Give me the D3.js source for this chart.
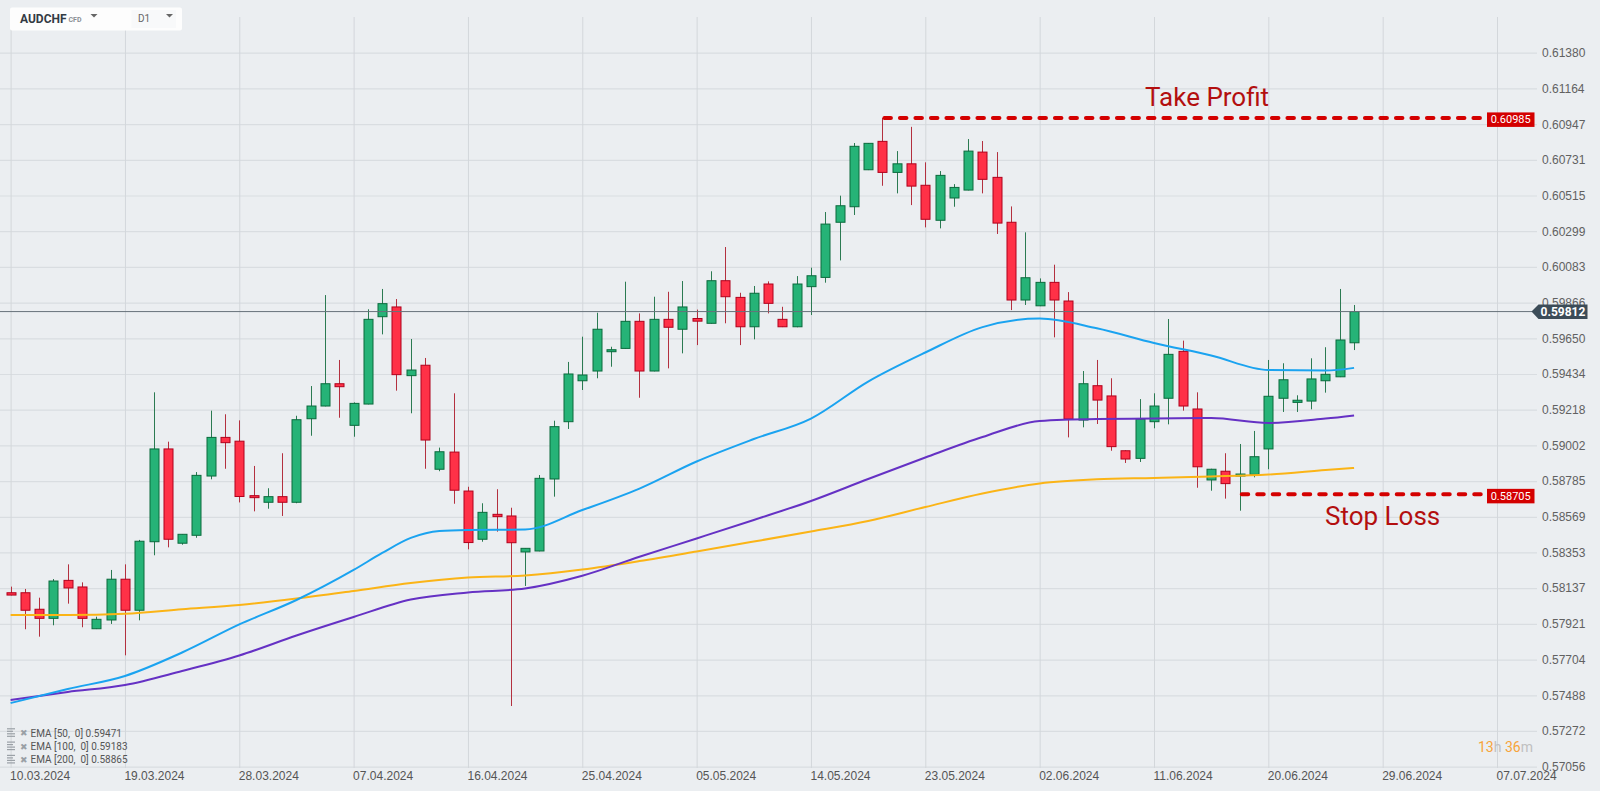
<!DOCTYPE html>
<html><head><meta charset="utf-8">
<script src="https://cdn.jsdelivr.net/npm/d3@7"></script>
<style>
html,body{margin:0;padding:0;background:#ebeef1;overflow:hidden;}
svg{display:block;font-family:Roboto,"Noto Sans",sans-serif;}
</style></head><body>
<svg id="chart" width="1600" height="791"></svg>
<script>
// ---------- DATA ----------
const symbol = "AUDCHF";
const symbolType = "CFD";
const timeframe = "D1";
const xLabels = ["10.03.2024","19.03.2024","28.03.2024","07.04.2024","16.04.2024","25.04.2024","05.05.2024","14.05.2024","23.05.2024","02.06.2024","11.06.2024","20.06.2024","29.06.2024","07.07.2024"];
const yTickLabels = ["0.57056","0.57272","0.57488","0.57704","0.57921","0.58137","0.58353","0.58569","0.58785","0.59002","0.59218","0.59434","0.59650","0.59866","0.60083","0.60299","0.60515","0.60731","0.60947","0.61164","0.61380"];

const opens = [0.58109,0.58109,0.58009,0.57954,0.58184,0.58144,0.57891,0.57944,0.58191,0.58003,
0.58418,0.58980,0.58409,0.58457,0.58816,0.59050,0.59027,0.58697,0.58657,0.58691,
0.58657,0.59163,0.59240,0.59375,0.59123,0.59252,0.59781,0.59840,0.59424,0.59487,
0.58857,0.58961,0.58725,0.58433,0.58584,0.58574,0.58356,0.58362,0.58798,0.59145,
0.59393,0.59452,0.59571,0.59589,0.59753,0.59452,0.59765,0.59705,0.59770,0.59741,
0.59999,0.59898,0.59720,0.59979,0.59765,0.59720,0.59963,0.60019,0.60353,0.60447,
0.60671,0.60843,0.60655,0.60707,0.60577,0.60365,0.60500,0.60548,0.60778,0.60625,
0.60353,0.59882,0.59847,0.59989,0.59876,0.59155,0.59363,0.59301,0.58969,0.58923,
0.59145,0.59287,0.59571,0.59222,0.58792,0.58845,0.58824,0.58826,0.58980,0.59287,
0.59262,0.59270,0.59393,0.59417,0.59623];
const highs = [0.58146,0.58132,0.58079,0.58192,0.58281,0.58172,0.57964,0.58247,0.58281,0.58429,
0.59323,0.59024,0.58463,0.58840,0.59212,0.59190,0.59153,0.58877,0.58742,0.58954,
0.59181,0.59361,0.59912,0.59519,0.59262,0.59826,0.59949,0.59888,0.59646,0.59531,
0.58988,0.59317,0.58751,0.58651,0.58736,0.58624,0.58378,0.58822,0.59151,0.59507,
0.59660,0.59805,0.59599,0.59993,0.59801,0.59902,0.59932,0.59997,0.59824,0.60056,
0.60203,0.59926,0.59967,0.59995,0.59841,0.60027,0.60078,0.60415,0.60514,0.60833,
0.60833,0.60985,0.60784,0.60931,0.60716,0.60663,0.60584,0.60857,0.60845,0.60778,
0.60449,0.60292,0.60013,0.60096,0.59930,0.59452,0.59519,0.59408,0.58972,0.59282,
0.59317,0.59767,0.59636,0.59323,0.58860,0.58954,0.59010,0.59089,0.59519,0.59499,
0.59305,0.59529,0.59596,0.59949,0.59852];
const lows = [0.58093,0.57888,0.57843,0.57912,0.58043,0.57900,0.57889,0.57920,0.57730,0.57942,
0.58336,0.58384,0.58400,0.58442,0.58796,0.58860,0.58656,0.58602,0.58618,0.58574,
0.58651,0.59060,0.59238,0.59169,0.59054,0.59250,0.59674,0.59333,0.59196,0.58860,
0.58845,0.58648,0.58372,0.58418,0.58479,0.57423,0.58150,0.58360,0.58691,0.59101,
0.59337,0.59408,0.59478,0.59587,0.59290,0.59450,0.59468,0.59559,0.59609,0.59739,
0.59741,0.59609,0.59644,0.59801,0.59718,0.59717,0.59791,0.59987,0.60122,0.60397,
0.60669,0.60574,0.60528,0.60457,0.60322,0.60316,0.60447,0.60546,0.60528,0.60282,
0.59821,0.59852,0.59845,0.59656,0.59050,0.59111,0.59131,0.58969,0.58895,0.58901,
0.59105,0.59129,0.59212,0.58745,0.58727,0.58679,0.58606,0.58808,0.58857,0.59204,
0.59204,0.59220,0.59321,0.59415,0.59579];
const closes = [0.58095,0.58003,0.57954,0.58180,0.58138,0.57954,0.57948,0.58191,0.58003,0.58421,
0.58980,0.58433,0.58463,0.58820,0.59050,0.59018,0.58692,0.58685,0.58691,0.58657,
0.59157,0.59240,0.59375,0.59357,0.59256,0.59765,0.59860,0.59430,0.59458,0.59034,
0.58963,0.58730,0.58413,0.58596,0.58570,0.58412,0.58378,0.58802,0.59115,0.59434,
0.59428,0.59705,0.59581,0.59753,0.59452,0.59765,0.59717,0.59840,0.59754,0.59999,
0.59902,0.59720,0.59923,0.59862,0.59720,0.59979,0.60029,0.60342,0.60453,0.60813,
0.60831,0.60655,0.60707,0.60572,0.60371,0.60637,0.60564,0.60784,0.60613,0.60348,
0.59882,0.60017,0.59989,0.59882,0.59161,0.59375,0.59276,0.58994,0.58919,0.59160,
0.59240,0.59553,0.59240,0.58872,0.58857,0.58770,0.58828,0.58933,0.59299,0.59399,
0.59275,0.59404,0.59432,0.59640,0.59812];

// EMA lines, read at selected bars
const ema50Bars  = [0,4,8,12,16,20,24,26,28,30,32,36,40,44,48,52,56,60,64,68,72,76,80,84,88,92,94];
const ema50Vals  = [0.57441,0.57526,0.57605,0.57747,0.57917,0.58065,0.58247,0.58350,0.58441,0.58483,0.58489,0.58492,0.58610,0.58740,0.58904,0.59040,0.59164,0.59388,0.59564,0.59718,0.59770,0.59711,0.59622,0.59546,0.59458,0.59455,0.59471];
const ema100Bars = [0,4,8,12,16,20,24,28,32,36,40,44,48,52,56,60,64,68,72,76,80,84,88,92,94];
const ema100Vals = [0.57460,0.57508,0.57550,0.57635,0.57729,0.57850,0.57962,0.58068,0.58111,0.58135,0.58212,0.58327,0.58438,0.58550,0.58665,0.58798,0.58928,0.59052,0.59149,0.59161,0.59164,0.59167,0.59137,0.59164,0.59183];
const ema200Bars = [0,4,8,12,16,20,24,28,32,36,40,44,48,52,56,60,64,68,72,76,80,84,88,92,94];
const ema200Vals = [0.57974,0.57974,0.57982,0.58009,0.58035,0.58074,0.58120,0.58168,0.58201,0.58214,0.58250,0.58301,0.58359,0.58419,0.58480,0.58544,0.58628,0.58710,0.58771,0.58796,0.58804,0.58813,0.58825,0.58852,0.58865];
const emaLegend = ["EMA [50,  0] 0.59471","EMA [100,  0] 0.59183","EMA [200,  0] 0.58865"];

const takeProfit = 0.60985, takeProfitStart = 61, takeProfitLabel = "Take Profit";
const stopLoss = 0.58705, stopLossStart = 86, stopLossLabel = "Stop Loss";
const lastPrice = 0.59812;
const timerParts = [["13","o"],["h","g"],[" 36","o"],["m","g"]];

// ---------- DRAW ----------
const svg = d3.select("#chart");
const W = 1600, H = 791;
const plotRight = 1537, plotTop = 17, plotBottom = 768;
const nSlots = 104;
const x = d3.scaleLinear().domain([0, nSlots]).range([10.6, 1497]);
const yVals = yTickLabels.map(Number);
const y = d3.scaleLinear().domain([yVals[0], yVals[yVals.length-1]]).range([766.6, 52.7]);

svg.append("rect").attr("width", W).attr("height", H).attr("fill", "#ebeef1");

// horizontal grid + right axis
const yAxis = d3.axisRight(y).tickValues(yVals).tickFormat((d,i)=>yTickLabels[i])
  .tickSize(-plotRight).tickPadding(5);
const gy = svg.append("g").attr("transform", `translate(${plotRight},0)`).call(yAxis);
gy.select(".domain").remove();
gy.selectAll("line").attr("stroke", "#d9dde1").attr("stroke-width", 1.2);
gy.selectAll("text").attr("fill", "#616161").style("font-size", "12px");

// vertical grid + bottom axis
const xTicks = d3.range(0, nSlots + 1, 8);
const xAxis = d3.axisBottom(x).tickValues(xTicks).tickFormat((d,i)=>xLabels[i])
  .tickSize(-(plotBottom - plotTop)).tickPadding(3);
const gx = svg.append("g").attr("transform", `translate(0,${plotBottom})`).call(xAxis);
gx.select(".domain").remove();
gx.selectAll("line").attr("stroke", "#d3d7db").attr("stroke-width", 1);
gx.selectAll("text").attr("fill", "#555").style("font-size", "12px").attr("text-anchor", "start").attr("x", -1);

// candles
const candles = opens.map((o,i)=>({i, o, h: highs[i], l: lows[i], c: closes[i]}));
const cg = svg.append("g");
const upFill = "#26b377", upStroke = "#0a6a3c", dnFill = "#ff3147", dnStroke = "#b0001c";
candles.forEach(d => {
  const cx = Math.round(x(d.i));
  const up = d.c >= d.o;
  cg.append("line").attr("x1", cx + 0.5).attr("x2", cx + 0.5)
    .attr("y1", y(d.h)).attr("y2", y(d.l))
    .attr("stroke", up ? "#2b7a52" : "#b3303f").attr("stroke-width", 1);
  const top = y(Math.max(d.o, d.c)), bot = y(Math.min(d.o, d.c));
  const hgt = Math.max(2, bot - top);
  cg.append("rect").attr("x", cx - 4).attr("y", top).attr("width", 9).attr("height", hgt)
    .attr("fill", up ? upFill : dnFill).attr("stroke", up ? upStroke : dnStroke).attr("stroke-width", 1);
});

// EMA lines
const line = d3.line().x(d=>x(d[0])).y(d=>y(d[1])).curve(d3.curveMonotoneX);
const emaSeries = [
  {bars: ema200Bars, vals: ema200Vals, color: "#fbb416"},
  {bars: ema100Bars, vals: ema100Vals, color: "#6531c4"},
  {bars: ema50Bars,  vals: ema50Vals,  color: "#1aa3f0"}
];
emaSeries.forEach(s => {
  svg.append("path").datum(s.bars.map((b,k)=>[b, s.vals[k]]))
    .attr("d", line).attr("fill", "none").attr("stroke", s.color).attr("stroke-width", 2);
});

// current price line
const yp = y(lastPrice);
svg.append("line").attr("x1", 0).attr("x2", 1532).attr("y1", yp).attr("y2", yp)
  .attr("stroke", "#66717a").attr("stroke-width", 1);

// TP / SL lines
function level(val, startBar, label, textX, textY) {
  const yy = y(val);
  svg.append("line").attr("x1", x(startBar) + 2).attr("x2", 1483).attr("y1", yy).attr("y2", yy)
    .attr("stroke", "#d40000").attr("stroke-width", 4).attr("stroke-linecap", "round")
    .attr("stroke-dasharray", "6.5,9");
  svg.append("rect").attr("x", 1487).attr("y", yy - 5.5).attr("width", 47.5).attr("height", 14.5)
    .attr("fill", "#d40000");
  svg.append("text").attr("x", 1510.7).attr("y", yy + 1.7).attr("dy", "0.35em")
    .attr("text-anchor", "middle").attr("fill", "#fff").style("font-size", "11px")
    .text(val.toFixed(5));
  svg.append("text").attr("x", textX).attr("y", textY).attr("fill", "#b30f0f")
    .style("font-size", "26px").text(label);
}
level(takeProfit, takeProfitStart, takeProfitLabel, 1145, 106);
level(stopLoss, stopLossStart, stopLossLabel, 1325, 525);

// current price tag
svg.append("path")
  .attr("d", `M1531.5,${yp} L1538.5,${yp-7} L1587.5,${yp-7} L1587.5,${yp+7.5} L1538.5,${yp+7.5} Z`)
  .attr("fill", "#3c4c58");
svg.append("text").attr("x", 1563).attr("y", yp + 0.5).attr("dy", "0.35em").attr("text-anchor", "middle")
  .attr("fill", "#fff").style("font-size", "12px").style("font-weight", "bold").text(lastPrice.toFixed(5));

// header box
const hg = svg.append("g");
hg.append("rect").attr("x", 10).attr("y", 7.5).attr("width", 172).attr("height", 23).attr("rx", 2).attr("fill", "#fdfdfd");
hg.append("rect").attr("x", 131.5).attr("y", 10).attr("width", 44.5).attr("height", 18).attr("fill", "#f8f9fa");
hg.append("text").attr("x", 20).attr("y", 22.5).attr("fill", "#333b44").style("font-size", "12px").style("font-weight", "bold").text(symbol);
hg.append("text").attr("x", 68.5).attr("y", 21.5).attr("fill", "#8a8f94").style("font-size", "7px").style("font-weight", "bold").text(symbolType);
hg.append("path").attr("d", "M90.5,14 L97.5,14 L94,17.5 Z").attr("fill", "#666");
hg.append("text").attr("x", 138).attr("y", 22).attr("fill", "#666").style("font-size", "10px").text(timeframe);
hg.append("path").attr("d", "M166,14 L173,14 L169.5,17.5 Z").attr("fill", "#666");

// legend
emaLegend.forEach((t, k) => {
  const yy = 733.3 + k * 13.3;
  const lg = svg.append("g");
  [[-4.5,8],[-2,6],[0.5,8],[3,8]].forEach(([dy,w]) => {
    lg.append("line").attr("x1", 7).attr("x2", 7 + w).attr("y1", yy + dy).attr("y2", yy + dy)
      .attr("stroke", "#9aa0a6").attr("stroke-width", 1.2);
  });
  lg.append("text").attr("x", 19.5).attr("y", yy).attr("dy", "0.35em").attr("fill", "#9aa0a6")
    .style("font-size", "9px").text("✖");
  lg.append("text").attr("x", 30.5).attr("y", yy).attr("dy", "0.35em").attr("fill", "#555")
    .style("font-size", "10px").style("white-space", "pre").attr("xml:space", "preserve").text(t);
});

// timer
const tt = svg.append("text").attr("x", 1478).attr("y", 751.5).style("font-size", "14px");
timerParts.forEach(([s, c]) => {
  tt.append("tspan").attr("fill", c === "o" ? "#f7a43a" : "#c0c0c0").style("white-space", "pre").text(s);
});
</script>
</body></html>
